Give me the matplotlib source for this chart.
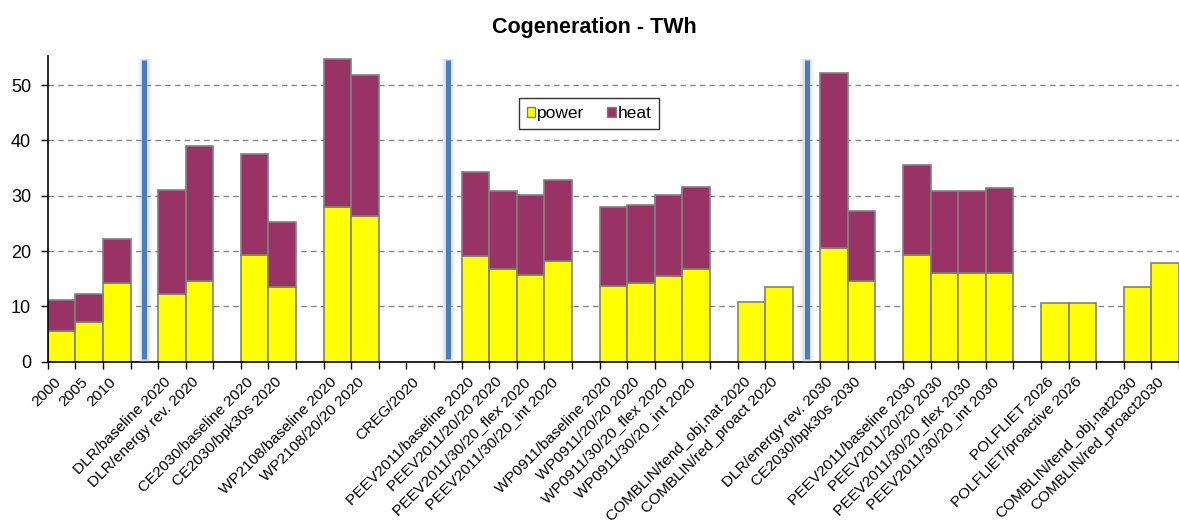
import numpy as np
import matplotlib
matplotlib.use("Agg")
import matplotlib.pyplot as plt
from matplotlib.patches import Patch
from matplotlib.transforms import ScaledTranslation

plt.rcParams['font.family'] = ['Liberation Sans', 'DejaVu Sans']

# categories, '' = empty slot between scenario groups
labels = ['2000', '2005', '2010', '',
          'DLR/baseline 2020', 'DLR/energy rev. 2020', '',
          'CE2030/baseline 2020', 'CE2030/bpk30s 2020', '',
          'WP2108/baseline 2020', 'WP2108/20/20 2020', '',
          'CREG/2020', '',
          'PEEV2011/baseline 2020', 'PEEV2011/20/20 2020',
          'PEEV2011/30/20_flex 2020', 'PEEV2011/30/20_int 2020', '',
          'WP0911/baseline 2020', 'WP0911/20/20 2020',
          'WP0911/30/20_flex 2020', 'WP0911/30/20_int 2020', '',
          'COMBLIN/tend_obj.nat 2020', 'COMBLIN/red_proact 2020', '',
          'DLR/energy rev. 2030', 'CE2030/bpk30s 2030', '',
          'PEEV2011/baseline 2030', 'PEEV2011/20/20 2030',
          'PEEV2011/30/20_flex 2030', 'PEEV2011/30/20_int 2030', '',
          'POLFLIET 2026', 'POLFLIET/proactive 2026', '',
          'COMBLIN/tend_obj.nat2030', 'COMBLIN/red_proact2030']

# TWh
power = [5.5, 7.2, 14.3, None,
         12.2, 14.5, None,
         19.3, 13.5, None,
         27.9, 26.4, None,
         None, None,
         19.1, 16.7, 15.7, 18.2, None,
         13.7, 14.2, 15.4, 16.7, None,
         10.8, 13.5, None,
         20.5, 14.5, None,
         19.3, 16.1, 16.1, 16.1, None,
         10.6, 10.6, None,
         13.5, 17.9]

heat = [5.6, 5.1, 7.8, None,
        18.9, 24.4, None,
        18.2, 11.7, None,
        26.8, 25.5, None,
        None, None,
        15.2, 14.1, 14.4, 14.6, None,
        14.3, 14.2, 14.7, 14.9, None,
        0, 0, None,
        31.7, 12.7, None,
        16.2, 14.7, 14.7, 15.3, None,
        0, 0, None,
        0, 0]

# slots holding the blue divider lines
dividers = [3, 14, 27]

yellow = '#ffff00'
purple = '#993366'
edge = '#808080'

fig = plt.figure(figsize=(11.79, 5.27), dpi=100)
ax = fig.add_axes([0.0405, 0.3137, 0.9595, 0.5800])

x = np.arange(len(labels))
idx = [i for i in x if power[i] is not None]
p = np.array([power[i] for i in idx])
h = np.array([heat[i] for i in idx])

ax.bar(idx, p, width=1.0, color=yellow, edgecolor=edge, linewidth=1.2, zorder=2)
hi = [j for j in range(len(idx)) if h[j] > 0]
ax.bar([idx[j] for j in hi], h[hi], bottom=p[hi], width=1.0, color=purple,
       edgecolor=edge, linewidth=1.2, zorder=2)

for d in dividers:
    # faint shadow round the divider
    for w, a in [(10, 0.08), (7.5, 0.12), (5.5, 0.18)]:
        ax.plot([d + 0.02, d + 0.02], [0.0, 54.8], color='#a0a0a0', lw=w,
                alpha=a, solid_capstyle='butt', zorder=3)
    ax.plot([d, d], [0.4, 54.5], color='#4a7ebb', lw=3.6,
            solid_capstyle='butt', zorder=4)

ax.set_xlim(-0.5, 40.15)
ax.set_ylim(0, 55.25)

ax.set_yticks([0, 10, 20, 30, 40, 50])
ax.yaxis.grid(True, color='#868686', linestyle=(0, (4, 3)), linewidth=1.0)
ax.set_axisbelow(True)

ax.set_xticks(x)
ax.set_xticklabels(labels, rotation=45, ha='right', va='top',
                   rotation_mode='anchor', fontsize=11.1)
ax.set_xticks(np.arange(-0.5, 40.6, 1.0), minor=True)
ax.tick_params(axis='x', which='major', length=0, pad=9.5)
ax.tick_params(axis='x', which='minor', length=5, width=1.0, direction='out')
ax.tick_params(axis='y', length=5, width=1.0, direction='out', pad=7,
               labelsize=13)

# pull the slanted labels left so they end under the bar centres
shift = ScaledTranslation(-8 / 100, 0, fig.dpi_scale_trans)
for lbl in ax.get_xticklabels():
    lbl.set_transform(lbl.get_transform() + shift)

for s in ['top', 'right']:
    ax.spines[s].set_visible(False)
for s in ['left', 'bottom']:
    ax.spines[s].set_color('black')
    ax.spines[s].set_linewidth(1.2)

fig.text(0.5042, 0.948, 'Cogeneration - TWh', ha='center', va='center',
         fontsize=15.5, fontweight='bold')

handles = [Patch(facecolor=yellow, edgecolor=edge, label='power'),
           Patch(facecolor=purple, edgecolor=edge, label='heat')]
leg = ax.legend(handles=handles, loc='center', bbox_to_anchor=(0.4785, 0.812),
                ncol=2, fontsize=12.5, frameon=True, fancybox=False,
                handlelength=0.5, handleheight=0.5, handletextpad=0.1,
                columnspacing=1.3, borderpad=0.45, borderaxespad=0)
leg.get_frame().set_edgecolor('black')
leg.get_frame().set_linewidth(1.0)

fig.savefig('out.png', dpi=100)
